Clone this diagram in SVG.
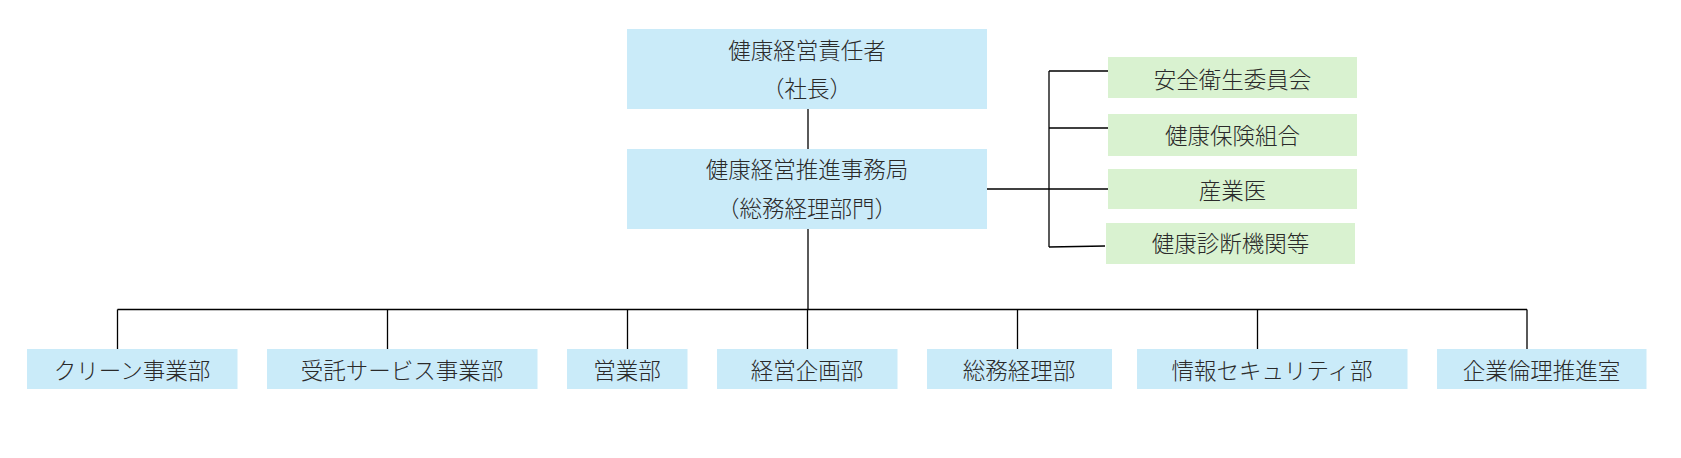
<svg xmlns="http://www.w3.org/2000/svg" width="1681" height="458" viewBox="0 0 1681 458">
<style>
.b{fill:#CAEBF9}
.g{fill:#D9F2D0}
text{font-family:"Noto Sans CJK JP","Noto Sans",sans-serif;font-size:22.5px;font-weight:300;fill:#2a2a2a;text-anchor:middle}
.c{stroke:#000;stroke-width:1.3;fill:none}
</style>
<rect width="1681" height="458" fill="#fff"/>
<g id="connectors" class="c">
<path d="M808 109V149"/>
<path d="M808 229V309.5"/>
<path d="M117.5 309.5H1527"/>
<path d="M117.5 309.5V349M387.5 309.5V349M627.5 309.5V349M807.5 309.5V349M1017.5 309.5V349M1257.5 309.5V349M1527 309.5V349"/>
<path d="M987 189H1109"/>
<path d="M1049 71V247"/>
<path d="M1049 71H1108M1049 128H1108M1049 247L1105 246"/>
</g>
<g id="n-ceo"><rect class="b" x="627" y="29" width="360" height="80"/><text x="807" y="58.5">健康経営責任者</text><text x="807" y="96.5">（社長）</text></g>
<g id="n-office"><rect class="b" x="627" y="149" width="360" height="80"/><text x="807" y="177.5">健康経営推進事務局</text><text x="807" y="216.5">（総務経理部門）</text></g>
<g id="n-g1"><rect class="g" x="1108" y="57" width="249" height="41"/><text x="1232.5" y="87.5">安全衛生委員会</text></g>
<g id="n-g2"><rect class="g" x="1108" y="114" width="249" height="42"/><text x="1232.5" y="143.5">健康保険組合</text></g>
<g id="n-g3"><rect class="g" x="1108" y="169" width="249" height="40"/><text x="1232.5" y="198.5">産業医</text></g>
<g id="n-g4"><rect class="g" x="1106" y="223" width="249" height="41"/><text x="1230.5" y="251.5">健康診断機関等</text></g>
<g id="n-d1"><rect class="b" x="27" y="349" width="210.5" height="40"/><text x="132" y="378.5">クリーン事業部</text></g>
<g id="n-d2"><rect class="b" x="267" y="349" width="270.5" height="40"/><text x="402" y="378.5">受託サービス事業部</text></g>
<g id="n-d3"><rect class="b" x="567" y="349" width="120.5" height="40"/><text x="627" y="378.5">営業部</text></g>
<g id="n-d4"><rect class="b" x="717" y="349" width="180.5" height="40"/><text x="807" y="378.5">経営企画部</text></g>
<g id="n-d5"><rect class="b" x="927" y="349" width="185" height="40"/><text x="1019" y="378.5">総務経理部</text></g>
<g id="n-d6"><rect class="b" x="1137" y="349" width="270.5" height="40"/><text x="1272" y="378.5">情報セキュリティ部</text></g>
<g id="n-d7"><rect class="b" x="1437" y="349" width="209.5" height="40"/><text x="1541.5" y="378.5">企業倫理推進室</text></g>
</svg>
